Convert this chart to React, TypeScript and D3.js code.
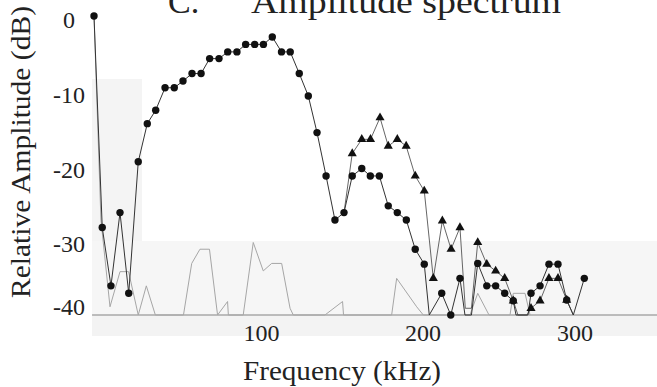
import React from "react";
import * as d3 from "d3";

// Circle series (kHz, dB)
const circleFreq = [0, 5.1, 10.5, 16.1, 21.5, 27.4, 33.0, 38.2, 44.0, 49.7, 55.1, 60.7, 66.3, 71.6, 77.4, 82.8, 88.5, 93.9, 99.5, 104.9, 110.4, 116.1, 121.5, 127.1, 132.7, 138.1, 143.7, 149.2, 154.8, 159.9, 165.8, 171.1, 176.7, 182.2, 187.8, 193.4, 198.9, 204.5, 207.6, 215.3, 220.9, 226.6, 229.7, 233.7, 237.6, 243.2, 248.7, 254.3, 259.6, 261.3, 268.7, 270.6, 276.2, 281.7, 287.3, 292.7, 296.8, 303.6];
const circleDb = [0, -28.3, -36.1, -26.3, -37.1, -19.5, -14.4, -12.6, -9.6, -9.6, -8.7, -7.7, -7.7, -5.7, -5.7, -4.8, -4.8, -3.8, -3.8, -3.8, -2.8, -4.8, -4.8, -7.7, -10.7, -15.6, -21.4, -27.3, -26.3, -21.4, -20.4, -21.4, -21.4, -25.4, -26.3, -27.3, -31.2, -33.2, -40, -37.1, -40, -35.1, -40, -40, -33.1, -36.1, -36.1, -37.1, -38.1, -40, -40, -37.1, -36.1, -33.2, -33.2, -38, -40, -35.1];
const circleNoMarker = [38, 42, 43, 49, 50, 56];

// Triangle series
const triFreq = [154.8, 159.9, 165.8, 171.2, 177.1, 182.2, 187.8, 193.3, 198.9, 204.5, 210.1, 215.7, 221.1, 226.6, 229.9, 233.7, 237.6, 243.2, 248.7, 254.3, 259.6, 262.5, 268.1, 270.6, 276.2, 281.7, 287.3, 292.7, 296.8];
const triDb = [-26.3, -18.4, -16.5, -16.5, -13.6, -17.4, -16.5, -17.4, -21.4, -23.4, -35.1, -27.4, -31.2, -28.3, -39.1, -39.1, -30.3, -33.2, -34.1, -35.1, -38.1, -40, -40, -39.1, -38.1, -35.1, -35.1, -38.0, -40];
const triNoMarker = [0, 14, 15, 21, 22, 28];

// Gray (unmarked) series
const grayFreq = [0, 4.3, 9.9, 16.1, 21.4, 27.4, 32.4, 38.0, 55.4, 60.5, 65.6, 71.5, 76.5, 82.7, 83.2, 92.4, 98.6, 104.8, 110.0, 116.2, 121.4, 123.4, 143.0, 153.9, 154.5, 184.3, 187.4, 199.8, 203.9, 232.8, 237.6, 244.6, 257.6, 259.6, 266.9, 270.0];
const grayDb = [0, -27.3, -38.9, -34.2, -34.2, -40, -36.1, -40, -40, -33.1, -31.2, -31.2, -40, -38.2, -40, -40, -30.3, -34.1, -33.1, -33.1, -39.1, -40, -40, -38.2, -40, -40, -35.1, -38.9, -40, -40, -37.1, -40, -40, -37.1, -37.1, -40];

const xTicks = [100, 200, 300];
const yTicks = [0, -10, -20, -30, -40];

const W = 657;
const H = 387;
const txt = { fontFamily: '"Liberation Serif", serif' };

export default function App() {
  const x = d3.scaleLinear().domain([0, 300]).range([94, 578.5]);
  const y = d3.scaleLinear().domain([-40, 0]).range([315, 16]);

  const line = d3
    .line<[number, number]>()
    .x((d) => x(d[0]))
    .y((d) => y(d[1]));

  const circ: [number, number][] = circleFreq.map((f, i) => [f, circleDb[i]]);
  const tri: [number, number][] = triFreq.map((f, i) => [f, triDb[i]]);
  const gray: [number, number][] = grayFreq.map((f, i) => [f, grayDb[i]]);
  const triSym = d3.symbol().type(d3.symbolTriangle).size(36)();

  const xLabelOff = (t: number) => (t === 300 ? { dx: -3.5, dy: 26 } : { dx: 6, dy: 26 });
  const yLabelOff = (t: number) => (t === -40 ? { dx: 0, dy: 0 } : t === 0 ? { dx: -10, dy: 12 } : { dx: 0, dy: 12 });

  return (
    <svg width={W} height={H} style={{ position: "fixed", left: 0, top: 0, background: "#fff" }}>
      <rect x={0} y={0} width={W} height={H} fill="#fff" />
      {/* light scan shading */}
      <rect x={x(-1.2)} y={79} width={50} height={236} fill="#f4f4f4" />
      <rect x={x(-1.2)} y={241} width={W - x(-1.2)} height={74} fill="#f6f6f6" />
      <rect x={x(-1.2)} y={315} width={W - x(-1.2)} height={21} fill="#f3f3f3" />

      {/* title (cut off at top, as in the source) */}
      <text x={168} y={13} fontSize={34} fill="#222" style={txt}>C.</text>
      <text x={251} y={13} fontSize={34} fill="#222" style={txt} textLength={310} lengthAdjust="spacingAndGlyphs">
        Amplitude spectrum
      </text>

      {/* gray series */}
      <path d={line(gray) || ""} fill="none" stroke="#a6a6a6" strokeWidth={1} />

      {/* baseline */}
      <line x1={x(-1.2)} x2={W} y1={y(-40)} y2={y(-40)} stroke="#a8a8a8" strokeWidth={1.5} />

      {/* triangle series */}
      <path d={line(tri) || ""} fill="none" stroke="#555" strokeWidth={0.9} />
      {/* circle series */}
      <path d={line(circ) || ""} fill="none" stroke="#333" strokeWidth={1} />

      {tri.map((d, i) =>
        triNoMarker.includes(i) ? null : (
          <path key={"t" + i} d={triSym || ""} transform={`translate(${x(d[0])},${y(d[1])})`} fill="#111" />
        )
      )}
      {circ.map((d, i) =>
        circleNoMarker.includes(i) ? null : (
          <circle key={"c" + i} cx={x(d[0])} cy={y(d[1])} r={3.7} fill="#111" />
        )
      )}

      {/* y tick labels */}
      {yTicks.map((t) => {
        const o = yLabelOff(t);
        return (
          <text key={"y" + t} x={85 + o.dx} y={y(t) + o.dy} fontSize={24} textAnchor="end" fill="#222" style={txt}>
            {t === 0 ? "0" : String(t)}
          </text>
        );
      })}

      {/* x tick labels */}
      {xTicks.map((t) => {
        const o = xLabelOff(t);
        return (
          <text key={"x" + t} x={x(t) + o.dx} y={y(-40) + o.dy} fontSize={24} textAnchor="middle" fill="#222" style={txt}>
            {t}
          </text>
        );
      })}

      {/* axis titles */}
      <text x={342} y={380} fontSize={27} textAnchor="middle" fill="#222" style={txt} textLength={198} lengthAdjust="spacingAndGlyphs">
        Frequency (kHz)
      </text>
      <text
        transform={`translate(30,152) rotate(-90)`}
        fontSize={28}
        textAnchor="middle"
        fill="#222"
        style={txt}
        textLength={292}
        lengthAdjust="spacingAndGlyphs"
      >
        Relative Amplitude (dB)
      </text>
    </svg>
  );
}
